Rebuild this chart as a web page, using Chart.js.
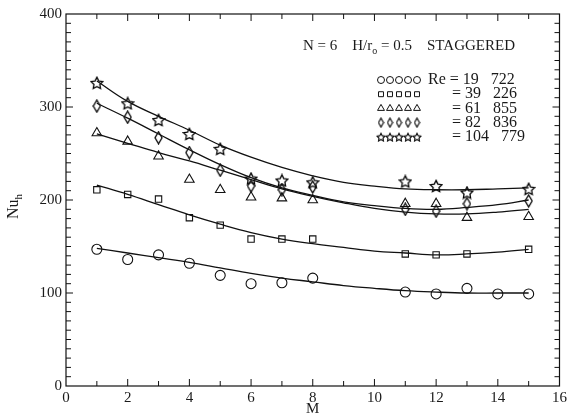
<!DOCTYPE html>
<html>
<head>
<meta charset="utf-8">
<style>
  html, body { margin: 0; padding: 0; background: #fff; }
  #wrap { width: 570px; height: 418px; }
</style>
<script src="https://cdn.jsdelivr.net/npm/chart.js@4/dist/chart.umd.min.js"></script>
</head>
<body>
<div id="wrap"><canvas id="nuChart" width="570" height="418"></canvas></div>
<script>
// measured points (M, Nu_h) for each Reynolds number
const reLabels = ["19   722", "39   226", "61   855", "82   836", "104   779"];

const mCircle = [1, 2, 3, 4, 5, 6, 7, 8, 11, 12, 13, 14, 15];
const nuCircle = [147, 136, 141, 132, 119, 110, 111, 116, 101, 99, 105, 99, 99];

const mOther = [1, 2, 3, 4, 5, 6, 7, 8, 11, 12, 13, 15];
const nuSquare = [211, 206, 201, 181, 173, 158, 158, 158, 142, 141, 142, 147];
const nuTriangle = [272, 263, 247, 222, 211, 203, 202, 200, 196, 196, 181, 182];
const nuDiamond = [301, 289, 267, 251, 232, 215, 211, 214, 190, 188, 196, 199];
const nuStar = [326, 304, 286, 271, 255, 223, 221, 219, 220, 215, 208, 212];

// fitted curves at M = 1..15
const mFit = [1, 2, 3, 4, 5, 6, 7, 8, 9, 10, 11, 12, 13, 14, 15];
const fitCircle = [148, 143, 138, 133, 127, 121, 116, 112, 108, 105, 102.5, 101, 100, 100, 100];
const fitSquare = [216, 206, 195, 184, 174, 165, 158, 153, 149, 145, 143, 141, 142, 144, 147];
const fitTriangle = [271, 261, 251, 242, 232, 222, 212, 204, 197, 191, 187, 185, 185, 187, 190];
const fitDiamond = [304, 288, 271, 254, 238, 224, 213, 205, 198, 194, 191, 190, 192, 195, 200];
const fitStar = [328, 306, 290, 275, 259, 246, 235, 226, 219, 215, 212, 211, 211, 212, 213];

const INK = "#111";
const FONT = "Liberation Serif, Times New Roman, serif";

function makeStar(size, lw) {
  const c = document.createElement("canvas");
  c.width = size; c.height = size;
  const g = c.getContext("2d");
  const r = size / 2 - 0.8, ri = r * 0.5, cx = size / 2, cy = size / 2 + 0.6;
  g.beginPath();
  for (let i = 0; i < 10; i++) {
    const rad = i % 2 === 0 ? r : ri;
    const a = -Math.PI / 2 + i * Math.PI / 5;
    const px = cx + rad * Math.cos(a), py = cy + rad * Math.sin(a);
    if (i === 0) g.moveTo(px, py); else g.lineTo(px, py);
  }
  g.closePath();
  g.lineJoin = "miter";
  g.lineWidth = lw;
  g.strokeStyle = "#000";
  g.stroke();
  return c;
}

function makeDiamond(w, h, lw) {
  const c = document.createElement("canvas");
  c.width = w; c.height = h;
  const g = c.getContext("2d");
  g.beginPath();
  g.moveTo(w / 2, 1);
  g.lineTo(w - 1, h / 2);
  g.lineTo(w / 2, h - 1);
  g.lineTo(1, h / 2);
  g.closePath();
  g.lineWidth = lw;
  g.strokeStyle = "#000";
  g.stroke();
  return c;
}

const starImg = makeStar(14, 1.3);
const diamondImg = makeDiamond(9, 14, 1.3);
const starSmall = makeStar(10, 1.1);
const diamondSmall = makeDiamond(7, 11, 1.1);

const styles = [
  { pointStyle: "circle", radius: 5, legendStyle: "circle", legendRadius: 3.5 },
  { pointStyle: "rect", radius: 4.5, legendStyle: "rect", legendRadius: 3.5 },
  { pointStyle: "triangle", radius: 5.5, legendStyle: "triangle", legendRadius: 4 },
  { pointStyle: diamondImg, radius: 6, legendStyle: diamondSmall, legendRadius: 4 },
  { pointStyle: starImg, radius: 6, legendStyle: starSmall, legendRadius: 4 },
];

function toPoints(xs, ys) {
  return xs.map((x, i) => ({ x: x, y: ys[i] }));
}

const markerSets = [
  toPoints(mCircle, nuCircle),
  toPoints(mOther, nuSquare),
  toPoints(mOther, nuTriangle),
  toPoints(mOther, nuDiamond),
  toPoints(mOther, nuStar),
];
const fitSets = [fitCircle, fitSquare, fitTriangle, fitDiamond, fitStar].map((ys) =>
  toPoints(mFit, ys)
);

const datasets = [];
fitSets.forEach((pts, i) => {
  datasets.push({
    label: "fit " + reLabels[i],
    data: pts,
    showLine: true,
    borderColor: INK,
    borderWidth: 1.3,
    pointRadius: 0,
    tension: 0.4,
    fill: false,
  });
});
markerSets.forEach((pts, i) => {
  datasets.push({
    label: "Re = " + reLabels[i],
    data: pts,
    showLine: false,
    pointStyle: styles[i].pointStyle,
    pointRadius: styles[i].radius,
    pointBorderColor: INK,
    pointBackgroundColor: "rgba(255,255,255,0)",
    pointBorderWidth: 1.1,
  });
});

// inward ticks on all four sides, labels and legend text
const framePlugin = {
  id: "frame",
  afterDraw(chart) {
    const ctx = chart.ctx;
    const xs = chart.scales.x, ys = chart.scales.y;
    const a = chart.chartArea;
    ctx.save();
    ctx.strokeStyle = INK;
    ctx.lineWidth = 1.2;
    ctx.strokeRect(a.left, a.top, a.right - a.left, a.bottom - a.top);

    ctx.lineWidth = 1;
    ctx.beginPath();
    for (let v = 1; v < 16; v++) {
      const px = xs.getPixelForValue(v);
      const len = v % 2 === 0 ? 7 : 5;
      ctx.moveTo(px, a.bottom); ctx.lineTo(px, a.bottom - len);
      ctx.moveTo(px, a.top); ctx.lineTo(px, a.top + len);
    }
    for (let v = 10; v < 400; v += 10) {
      const py = ys.getPixelForValue(v);
      const len = v % 100 === 0 ? 7 : 5;
      ctx.moveTo(a.left, py); ctx.lineTo(a.left + len, py);
      ctx.moveTo(a.right, py); ctx.lineTo(a.right - len, py);
    }
    ctx.stroke();

    // y-axis title with subscript
    ctx.fillStyle = "#1a1a1a";
    ctx.translate(18, 219);
    ctx.rotate(-Math.PI / 2);
    ctx.textBaseline = "alphabetic";
    ctx.font = "16px " + FONT;
    ctx.fillText("Nu", 0, 0);
    const w = ctx.measureText("Nu").width;
    ctx.font = "11px " + FONT;
    ctx.fillText("h", w, 4);
    ctx.setTransform(1, 0, 0, 1, 0, 0);

    // annotation line
    ctx.font = "15px " + FONT;
    let x = 303;
    const y0 = 50;
    const parts1 = "N = 6    H/r";
    ctx.fillText(parts1, x, y0);
    x += ctx.measureText(parts1).width;
    ctx.font = "10px " + FONT;
    ctx.fillText("o", x, y0 + 4);
    x += ctx.measureText("o").width;
    ctx.font = "15px " + FONT;
    ctx.fillText(" = 0.5    STAGGERED", x, y0);

    // legend rows
    ctx.font = "16px " + FONT;
    ctx.textBaseline = "middle";
    reLabels.forEach((lab, i) => {
      const ry = 80 + i * 14.2;
      ctx.fillStyle = "rgba(255,255,255,0)";
      ctx.strokeStyle = INK;
      ctx.lineWidth = 1;
      for (let k = 0; k < 5; k++) {
        Chart.helpers.drawPoint(
          ctx,
          { pointStyle: styles[i].legendStyle, radius: styles[i].legendRadius, borderWidth: 1 },
          381 + k * 9,
          ry
        );
      }
      ctx.fillStyle = "#1a1a1a";
      if (i === 0) ctx.fillText("Re = " + lab, 428, ry);
      else ctx.fillText("= " + lab, 452, ry);
    });
    ctx.restore();
  },
};

const ctx = document.getElementById("nuChart").getContext("2d");
new Chart(ctx, {
  type: "scatter",
  data: { datasets: datasets },
  options: {
    responsive: false,
    animation: false,
    layout: { padding: { top: 14, right: 7, left: 0, bottom: 0 } },
    plugins: { legend: { display: false }, tooltip: { enabled: false } },
    scales: {
      x: {
        type: "linear",
        min: 0,
        max: 16,
        grid: { display: false, drawTicks: false },
        border: { display: false },
        ticks: {
          stepSize: 2,
          padding: 3,
          color: "#1a1a1a",
          font: { family: FONT, size: 15 },
          maxRotation: 0,
        },
        title: {
          display: true,
          text: "M",
          color: "#1a1a1a",
          font: { family: FONT, size: 15 },
          padding: { top: 0, bottom: 0 },
        },
        afterFit(scale) {
          scale.height = 32;
        },
      },
      y: {
        type: "linear",
        min: 0,
        max: 400,
        grid: { display: false, drawTicks: false },
        border: { display: false },
        ticks: {
          stepSize: 100,
          padding: 4,
          color: "#1a1a1a",
          font: { family: FONT, size: 15 },
        },
        afterFit(scale) {
          scale.width = 66;
        },
      },
    },
  },
  plugins: [framePlugin],
});
</script>
</body>
</html>
